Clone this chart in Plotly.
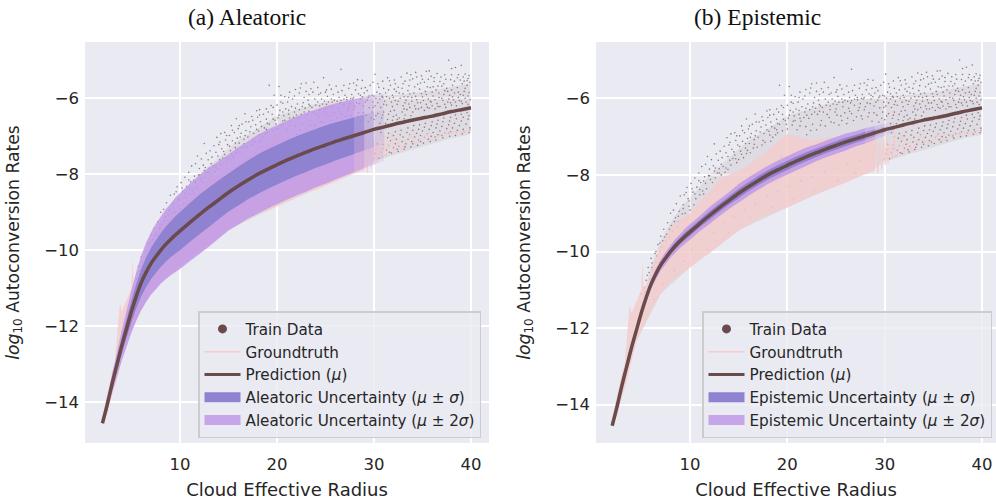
import plotly.graph_objects as go

# ---------- values ----------
radius = [2, 2.5, 3, 3.5, 4, 4.5, 5, 5.5, 6, 6.5, 7, 7.5, 8, 8.5, 9, 9.5, 10, 11, 12, 13, 14, 15, 16, 17, 18, 19, 20,
          21, 22, 23, 24, 25, 26, 27, 28, 29, 30, 31, 32, 33, 34, 35, 36, 37, 38, 39, 40]
prediction = [-14.55, -14.05, -13.5, -13.0, -12.5, -12.05, -11.6, -11.2, -10.85, -10.58, -10.35, -10.17, -10.0, -9.85,
              -9.72, -9.6, -9.49, -9.27, -9.06, -8.86, -8.67, -8.48, -8.31, -8.15, -8.0, -7.87, -7.75, -7.63, -7.52, -7.42,
              -7.32, -7.23, -7.14, -7.06, -6.98, -6.9, -6.82, -6.76, -6.69, -6.63, -6.57, -6.52, -6.47, -6.41, -6.35,
              -6.3, -6.25]
# standard deviations for radius[0:38] (x = 2 ... 31)
aleatoric_std = [0.02, 0.07, 0.12, 0.16, 0.2, 0.24, 0.28, 0.32, 0.36, 0.39, 0.41, 0.43, 0.44, 0.46, 0.47, 0.49, 0.5,
                 0.51, 0.52, 0.52, 0.51, 0.5, 0.51, 0.51, 0.52, 0.52, 0.52, 0.52, 0.52, 0.52, 0.51, 0.51, 0.5, 0.49,
                 0.48, 0.47, 0.46, 0.45]
epistemic_std = [0.01, 0.02, 0.03, 0.03, 0.04, 0.04, 0.05, 0.05, 0.06, 0.07, 0.07, 0.08, 0.08, 0.09, 0.09, 0.1, 0.1,
                 0.1, 0.11, 0.11, 0.11, 0.12, 0.12, 0.12, 0.12, 0.12, 0.12, 0.12, 0.12, 0.11, 0.11, 0.11, 0.11, 0.1,
                 0.1, 0.09, 0.08, 0.07]

truth_upper_x = [2.0, 2.3, 3.0, 3.3, 3.6, 3.8, 4.0, 4.5, 5.0, 5.1, 5.2, 5.6, 6, 6.5, 7, 8, 9, 10, 11, 12, 13, 14, 15, 16,
                 17, 17.5, 18, 19, 20, 21, 22, 22.5, 24, 25.5, 27, 28, 28.6, 29.0]
truth_upper_y = [-14.55, -14.0, -13.2, -12.9, -12.0, -11.4, -11.6, -11.3, -11.0, -10.2, -10.9, -10.9, -10.5, -10.15,
                 -9.85, -9.4, -9.15, -9.0, -8.7, -8.45, -8.1, -8.0, -7.9, -7.75, -7.55, -7.47, -7.35, -7.15, -6.93,
                 -7.0, -7.08, -7.1, -7.05, -7.0, -6.95, -6.85, -6.85, -7.25]
truth_lower_x = [29.0, 28, 27, 26, 25, 24, 23, 22, 21, 20, 19, 18, 17, 16, 15, 14, 13, 12, 11, 10, 9, 8, 7, 6,
                 5.5, 5, 4.5, 4, 3.5, 3, 2.5, 2]
truth_lower_y = [-7.9, -7.98, -8.08, -8.2, -8.3, -8.4, -8.5, -8.6, -8.72, -8.85, -8.95, -9.05, -9.15, -9.3,
                 -9.45, -9.65, -9.85, -10.05, -10.2, -10.42, -10.6, -10.8, -11.1, -11.55, -11.8, -12.1, -12.35, -12.85,
                 -13.4, -13.8, -14.3, -14.55]
truth_line_x = [28.7, 28.9, 29.1, 29.3, 29.5, 29.7, 29.9, 30.05, 30.2, 30.35, 30.5, 30.8, 31, 31.2, 31.8, 32, 32.5, 32.8,
                33.3, 33.8, 34.3, 35, 35.5, 36, 37, 38, 39, 40]
truth_line_y = [-6.9, -7.85, -7.0, -7.95, -7.15, -7.85, -7.1, -7.75, -7.0, -7.7, -7.2, -7.6, -6.9, -7.55, -6.9, -7.45,
                -7.1, -7.4, -7.1, -6.95, -7.2, -7.05, -6.95, -7.1, -6.95, -6.9, -6.9, -6.85]

dense_upper_x = [5, 6, 7, 8, 9, 10, 12, 14, 16, 18, 20, 22, 24, 26, 28, 30, 33, 36, 40]
dense_upper_y = [-11.3, -10.4, -9.7, -9.25, -8.85, -8.6, -8.0, -7.55, -7.1, -6.8, -6.45, -6.3, -6.15, -6.05, -6.0,
                 -5.95, -5.9, -5.8, -5.6]
dense_lower_x = [40, 38, 36, 34, 32, 30, 28, 24, 20, 15, 10, 7, 5]
dense_lower_y = [-6.95, -7.05, -7.2, -7.35, -7.5, -7.65, -7.98, -8.4, -8.85, -9.45, -10.42, -11.1, -12.1]

train_points = [
 (19.2,-5.66),(20.2,-5.69),(19.7,-5.92),(20.4,-5.92),(20.8,-5.96),(21.3,-5.84),(21.9,-5.77),(22.5,-5.62),(23.0,-5.60),
 (23.8,-5.58),(22.4,-5.73),(23.5,-5.75),(24.2,-5.72),(19.4,-6.19),(18.2,-6.30),(17.9,-6.33),(16.7,-6.41),(15.8,-6.54),
 (15.3,-6.72),(14.6,-6.90),(14.2,-6.93),(13.8,-7.03),(12.5,-7.19),(11.8,-7.52),(26.6,-5.24),(24.8,-5.46),(37.7,-5.00),
 (39.0,-5.13),(38.0,-5.22),(38.4,-5.19),(35.4,-5.29),(35.7,-5.28),(34.3,-5.32),(33.4,-5.34),(33.8,-5.38),(30.1,-5.37),
 (31.4,-5.46),(28.3,-5.51),(28.8,-5.53),(27.9,-5.60),(30.9,-5.55),(32.1,-5.52),(32.8,-5.44),(33.2,-5.55),(34.0,-5.49),
 (34.9,-5.41),(35.9,-5.42),(36.5,-5.35),(36.9,-5.44),(37.3,-5.38),(38.7,-5.38),(39.4,-5.36),(39.8,-5.40),(37.9,-5.51),
 (36.2,-5.56),(35.2,-5.58),(34.5,-5.63),(33.6,-5.67),(32.5,-5.71),(31.7,-5.66),(30.5,-5.71),(29.6,-5.66),(29.1,-5.72),
 (28.1,-5.78),(27.4,-5.74),(26.7,-5.80),(26.1,-5.68),(25.4,-5.65),(25.1,-5.78),(24.5,-5.86),(23.3,-5.90),(22.8,-5.98),
 (21.6,-6.02),(21.1,-6.10),(20.6,-6.13),(20.0,-6.18),(19.1,-6.36),(18.6,-6.42),(18.0,-6.50),(17.4,-6.48),(17.1,-6.62),
 (16.4,-6.68),(16.0,-6.80),(15.6,-6.90),(15.1,-6.98),(14.7,-7.10),(14.0,-7.22),(13.5,-7.25),(13.1,-7.38),(12.7,-7.45),
 (12.2,-7.60),(11.6,-7.72),(11.2,-7.78),(10.9,-7.95),(10.5,-8.08),(10.1,-8.22),(9.7,-8.33),(9.4,-8.52),(9.0,-8.55),
 (8.6,-8.75),(8.3,-8.92),(8.0,-9.0),(7.7,-9.25),(7.3,-9.42),(7.0,-9.6),(6.7,-9.82),(6.4,-10.05),(6.1,-10.3),(5.8,-10.55),
 (5.5,-10.75),(5.3,-10.95),(5.7,-10.42),(6.0,-10.18),(6.6,-10.12),(7.2,-9.72),(7.6,-9.55),(8.1,-9.32),(8.5,-9.12),
 (8.9,-8.95),(9.3,-8.78),(9.8,-8.62),(10.3,-8.45),(10.7,-8.32),(11.1,-8.2),(11.5,-8.05),(12.0,-7.85),(12.4,-7.76),
 (12.9,-7.62),(13.3,-7.55),(13.7,-7.42),(14.3,-7.33),(14.9,-7.22),(15.4,-7.12),(15.9,-7.05),(16.3,-6.92),(16.8,-6.85),
 (17.3,-6.75),(17.8,-6.70),(18.3,-6.62),(18.9,-6.55),(19.5,-6.42),(20.3,-6.32),(20.9,-6.28),(21.5,-6.22),(22.1,-6.15),
 (22.7,-6.12),(23.2,-6.05),(23.9,-6.02),(24.6,-6.02),(25.2,-5.95),(25.8,-5.90),(26.4,-5.98),(27.0,-5.92),(27.7,-5.90),
 (28.4,-5.88),(29.0,-5.86),(29.8,-5.92),(30.3,-5.84),(30.8,-5.95),(31.2,-5.86),(31.9,-5.92),(32.3,-5.82),(33.0,-5.88),
 (33.5,-5.80),(34.1,-5.86),(34.7,-5.76),(35.3,-5.82),(35.8,-5.72),(36.4,-5.78),(37.0,-5.68),(37.5,-5.74),(38.1,-5.66),
 (38.6,-5.72),(39.1,-5.62),(39.6,-5.66),(39.9,-5.58),
 (10.6,-8.62),(11.3,-8.42),(12.1,-8.12),(12.8,-7.95),(13.4,-7.78),(14.1,-7.62),(14.6,-7.48),(15.2,-7.38),(15.7,-7.3),
 (16.1,-7.18),(16.6,-7.08),(17.0,-7.02),(17.6,-6.92),(18.1,-6.86),(18.7,-6.78),(19.2,-6.68),(19.8,-6.58),(20.1,-6.52),
 (20.7,-6.46),(21.2,-6.42),(21.8,-6.36),(22.3,-6.3),(22.9,-6.26),(23.4,-6.2),(24.0,-6.18),(24.7,-6.15),(25.3,-6.1),
 (25.9,-6.05),(26.5,-6.12),(27.2,-6.04),(27.8,-6.02),(20.5,-6.7),(21.4,-6.6),(22.2,-6.52),(23.1,-6.42),(23.7,-6.36),
 (24.4,-6.3),(25.0,-6.28),(25.7,-6.22),(26.3,-6.26),(26.9,-6.18),(27.5,-6.14),(28.2,-6.12),(21.0,-6.82),(21.9,-6.74),
 (22.6,-6.68),(23.5,-6.58),(24.3,-6.5),(25.1,-6.44),(25.9,-6.38),(26.6,-6.4),(27.3,-6.32),(27.9,-6.3),(22.0,-6.95),
 (23.0,-6.82),(23.9,-6.72),(24.8,-6.64),(25.6,-6.58),(26.2,-6.52),(27.1,-6.48),(27.6,-6.46),(19.5,-6.85),(18.5,-7.02),
 (17.7,-7.15),(16.9,-7.28),(16.2,-7.42),(15.5,-7.55),(14.8,-7.68),(13.9,-7.86),(13.2,-8.0),(12.3,-8.2),(11.4,-8.5),
 (28.6,-6.02),(29.3,-6.05),(29.9,-6.1),(30.6,-6.02),(31.1,-6.08),(31.6,-6.0),(32.2,-6.06),(32.7,-6.0),(33.3,-6.05),
 (33.9,-5.98),(34.4,-6.04),(35.0,-5.96),(35.6,-6.02),(36.1,-5.94),(36.7,-5.98),(37.2,-5.9),(37.8,-5.92),(38.3,-5.86),
 (38.9,-5.9),(39.3,-5.82),(39.8,-5.85),(28.9,-6.2),(29.5,-6.25),(30.1,-6.2),(30.7,-6.24),(31.3,-6.18),(31.9,-6.22),
 (32.4,-6.16),(33.0,-6.2),(33.6,-6.15),(34.2,-6.2),(34.8,-6.12),(35.4,-6.16),(35.9,-6.1),(36.5,-6.14),(37.1,-6.06),
 (37.6,-6.1),(38.2,-6.04),(38.8,-6.06),(39.4,-6.0),(39.9,-6.04),(28.4,-6.38),(29.2,-6.44),(29.8,-6.36),(30.4,-6.4),
 (31.0,-6.36),(31.5,-6.42),(32.1,-6.32),(32.9,-6.36),(33.4,-6.3),(34.0,-6.36),(34.6,-6.28),(35.2,-6.32),(35.7,-6.26),
 (36.3,-6.28),(36.8,-6.22),(37.4,-6.24),(38.0,-6.18),(38.5,-6.2),(39.1,-6.14),(39.7,-6.16),(28.7,-6.6),(29.4,-6.62),
 (30.0,-6.56),(30.8,-6.52),(31.4,-6.56),(32.0,-6.48),(32.6,-6.52),(33.2,-6.44),(33.8,-6.46),
 (31.0,-7.0),(31.5,-6.92),(32.2,-6.88),(32.8,-6.84),(33.5,-6.78),(34.1,-6.72),(34.7,-6.7),(35.3,-6.66),(36.0,-6.62),
 (36.6,-6.58),(37.2,-6.52),(37.9,-6.5),(38.4,-6.44),(39.0,-6.42),(39.6,-6.38),(30.3,-7.2),(30.9,-7.22),(31.7,-7.12),
 (32.3,-7.08),(33.0,-7.02),(33.7,-6.96),(34.4,-6.92),(35.0,-6.86),(35.7,-6.82),(36.4,-6.78),(37.0,-6.74),(37.7,-6.7),
 (38.3,-6.66),(39.0,-6.6),(39.7,-6.55),(30.1,-7.45),(30.7,-7.42),(31.3,-7.36),(32.0,-7.3),(32.6,-7.26),(33.3,-7.2),
 (33.9,-7.14),(34.6,-7.1),(35.2,-7.02),(35.9,-7.0),(36.6,-6.96),(37.3,-6.92),(37.9,-6.88),(38.6,-6.84),(39.2,-6.82),
 (39.9,-6.78),(30.5,-7.58),(31.2,-7.5),(31.8,-7.44),(32.5,-7.4),(33.1,-7.34),(33.8,-7.28),(34.5,-7.24),(35.1,-7.18),
 (35.8,-7.14),(36.4,-7.1),(37.1,-7.04),(37.8,-7.0),(38.4,-6.98),(39.1,-6.94),(39.8,-6.9),
 (10.2,-9.95),(11.2,-9.7),(12.4,-9.5),(13.5,-9.25),(14.5,-9.1),(15.6,-8.9),(16.7,-8.75),(17.9,-8.55),(19.0,-8.42),
 (20.2,-8.3),(21.4,-8.15),(22.6,-8.05),(23.8,-7.92),(25.0,-7.82),(26.2,-7.72),(27.4,-7.62),(8.4,-10.5),(7.2,-10.85),
 (6.3,-11.25),(9.4,-10.25),(11.8,-9.95),(14.0,-9.5),(16.2,-9.1),(18.4,-8.85),(20.6,-8.65),(22.8,-8.4),(25.2,-8.15),
 (27.0,-7.95),(12.8,-8.72),(15.0,-8.25),(17.2,-7.95),(19.4,-7.55),
 (9.2,-9.02),(9.9,-8.82),(10.4,-8.78),(11.0,-8.52),(11.7,-8.36),(12.6,-8.08),(13.0,-7.84),(13.6,-7.93),(14.4,-7.57),
 (15.0,-7.6),(15.8,-7.44),(16.5,-7.3),(17.5,-7.1),(18.3,-7.12),(19.0,-6.9),(20.0,-6.8),(20.8,-6.58),(21.7,-6.5),
 (22.5,-6.42),(23.3,-6.34),(24.1,-6.42),(24.9,-6.36),(25.5,-6.46),(26.4,-6.34),(27.4,-6.24),(28.0,-6.22),(18.8,-6.95),
 (19.9,-6.68),(21.3,-6.72),(22.4,-6.84),(23.4,-6.7),(24.5,-6.62),(25.3,-6.7),(26.1,-6.66),(26.8,-6.58),(27.7,-6.54),
 (28.3,-6.48),(28.9,-6.38),(29.7,-6.52),(30.2,-6.46),(30.9,-6.44),(31.7,-6.34),(32.3,-6.44),(33.1,-6.28),(33.7,-6.24),
 (34.3,-6.28),(34.9,-6.24),(35.5,-6.24),(36.0,-6.2),(36.6,-6.22),(37.3,-6.16),(37.9,-6.12),(38.4,-6.1),(39.0,-6.08),
 (39.5,-6.1),(28.5,-6.14),(29.1,-6.1),(29.9,-6.24),(30.4,-6.12),(31.0,-6.16),(31.8,-6.1),(32.5,-6.08),(33.2,-6.12),
 (33.9,-6.08),(34.5,-6.12),(35.1,-6.06),(35.8,-6.08),(36.3,-6.04),(37.0,-6.0),(37.7,-6.02),(38.1,-5.96),(38.7,-5.98),
 (39.2,-5.92),(39.7,-5.94),(28.8,-5.96),(29.5,-5.94),(30.2,-6.0),(30.9,-5.98),(31.5,-5.78),(32.1,-5.76),(32.9,-5.74),
 (33.5,-5.96),(34.2,-5.7),(34.8,-5.6),(35.5,-5.7),(36.0,-5.84),(36.6,-5.68),(37.2,-5.62),(37.6,-5.82),(38.3,-5.55),
 (38.9,-5.52),(39.3,-5.55),(39.7,-5.48),(30.6,-6.66),(31.2,-6.66),(31.9,-6.58),(32.4,-6.56),(33.1,-6.54),(30.7,-6.9),
 (31.4,-7.04),(32.0,-6.98),(32.7,-6.96),(33.4,-6.9),(34.0,-6.84),(34.6,-6.82),(35.2,-6.76),(35.9,-6.72),(36.5,-6.68),
 (37.1,-6.62),(37.8,-6.6),(38.5,-6.54),(39.2,-6.5),(39.8,-6.46),(30.2,-7.34),(30.9,-7.32),(31.5,-7.24),(32.2,-7.2),
 (32.9,-7.14),(33.5,-7.08),(34.2,-7.02),(34.8,-6.98),(35.5,-6.94),(36.1,-6.9),(36.8,-6.86),(37.5,-6.8),(38.1,-6.78),
 (38.8,-6.72),(39.5,-6.68),(30.0,-7.58),(30.8,-7.54),(31.6,-7.42),(32.4,-7.34),(33.2,-7.28),(34.0,-7.2),(34.8,-7.14),
 (35.6,-7.08),(36.3,-7.02),(37.0,-6.98),(37.7,-6.92),(38.5,-6.9),(39.3,-6.88),(39.9,-6.84),
 (6.9,-10.0),(7.5,-9.72),(8.2,-9.48),(8.8,-9.22),(9.5,-9.0),(10.0,-8.92),(7.1,-9.88),(7.9,-9.62),(8.7,-9.36),
 (5.0,-11.1),(5.4,-11.05),(5.9,-10.72),(6.2,-10.5),(6.5,-10.28),
 # third pass, upper cloud
 (9.6,-8.46),(10.2,-8.36),(10.9,-8.15),(11.4,-8.16),(11.9,-8.02),(12.5,-7.9),(13.2,-7.72),(13.9,-7.52),(14.5,-7.4),
 (15.1,-7.26),(15.7,-7.18),(16.2,-7.02),(16.7,-6.98),(17.2,-6.88),(17.9,-6.82),(18.4,-6.74),(19.0,-6.66),(19.6,-6.55),
 (20.2,-6.44),(20.6,-6.36),(21.2,-6.32),(21.9,-6.26),(22.6,-6.22),(23.3,-6.16),(24.2,-6.1),(24.9,-6.08),(25.6,-6.02),
 (26.2,-6.08),(26.9,-6.02),(27.6,-6.0),(14.1,-7.15),(14.8,-6.98),(15.4,-6.84),(16.1,-6.72),(16.8,-6.62),(17.5,-6.58),
 (18.2,-6.44),(18.9,-6.28),(19.6,-6.24),(20.4,-6.1),(21.2,-5.98),(21.8,-5.94),(22.3,-5.86),(23.0,-5.82),(23.7,-5.84),
 (24.3,-5.9),(25.0,-5.84),(25.6,-5.76),(26.3,-5.84),(26.9,-5.66),(27.5,-5.62),(28.2,-5.66),(28.7,-5.74),(29.3,-5.8),
 (29.9,-5.58),(30.4,-5.62),(31.0,-5.74),(31.6,-5.54),(32.2,-5.62),(33.0,-5.62),(33.7,-5.52),(34.4,-5.44),(35.0,-5.5),
 (35.6,-5.5),(36.2,-5.46),(36.8,-5.56),(37.4,-5.5),(38.0,-5.38),(38.6,-5.46),(39.2,-5.44),(39.6,-5.54),(39.4,-5.74),
 (38.7,-5.84),(38.0,-5.78),(37.3,-5.8),(36.7,-5.86),(36.1,-5.7),(35.4,-5.9),(34.9,-5.88),(34.3,-5.95),(33.7,-5.88),
 (33.1,-5.96),(32.6,-5.86),(32.0,-5.98),(31.3,-5.96),(30.6,-5.88),(30.0,-5.94),(29.4,-5.98),(28.6,-5.92),(27.9,-5.98),
 (27.2,-5.98),(26.6,-6.06),(25.7,-6.1),(25.1,-6.16),(24.4,-6.2),(23.6,-6.24),(22.8,-6.36),(22.0,-6.44),(21.3,-6.52),
 (20.6,-6.6),(18.9,-6.82),(18.2,-6.96),(17.4,-7.22),(16.6,-7.2),(15.9,-7.36),(15.3,-7.46),(14.7,-7.58),(14.2,-7.74),
 (13.7,-7.82),(13.0,-7.95),(12.6,-7.82),(12.0,-8.02),(11.6,-8.22),(11.0,-8.38),(10.5,-8.5),(9.9,-8.68),(9.3,-8.88),
 (8.8,-9.08),(8.4,-9.22),(7.9,-9.42),(7.4,-9.62),(6.9,-9.78),(6.5,-10.0),(6.1,-10.42),(5.6,-10.62),
]
train_x = [p[0] for p in train_points]
train_y = [p[1] for p in train_points]

BROWN = "#6A4A4A"
PINK = "rgba(244,204,204,0.82)"
DARK = "#8F82D1"
LIGHT = "rgba(192,153,230,0.85)"
fade_dark = [0.6, 0.25, 0.08]
fade_light = [0.75, 0.45, 0.2]

panels = [
    dict(ax="x", ay="y", name="Aleatoric", std=aleatoric_std, legend="legend"),
    dict(ax="x2", ay="y2", name="Epistemic", std=epistemic_std, legend="legend2"),
]

fig = go.Figure()


def band(px, mu, sd, k, color, ax, ay, alpha=None):
    upper = [m + k * s for m, s in zip(mu, sd)]
    lower = [m - k * s for m, s in zip(mu, sd)]
    fig.add_trace(go.Scatter(x=px + px[::-1], y=upper + lower[::-1], fill="toself", fillcolor=color, mode="none",
                             showlegend=False, hoverinfo="skip", opacity=alpha, xaxis=ax, yaxis=ay))


for pn in panels:
    ax, ay, leg = pn["ax"], pn["ay"], pn["legend"]
    fig.add_trace(go.Scatter(x=dense_upper_x + dense_lower_x, y=dense_upper_y + dense_lower_y, fill="toself",
                             fillcolor="rgba(125,100,100,0.11)", mode="none", showlegend=False, hoverinfo="skip",
                             xaxis=ax, yaxis=ay))
    fig.add_trace(go.Scatter(x=train_x, y=train_y, mode="markers", marker=dict(size=1.6, color="#8F7C7E"),
                             showlegend=False, hoverinfo="skip", xaxis=ax, yaxis=ay))
    fig.add_trace(go.Scatter(x=truth_upper_x + truth_lower_x, y=truth_upper_y + truth_lower_y, fill="toself",
                             fillcolor=PINK, mode="none", showlegend=False, hoverinfo="skip", xaxis=ax, yaxis=ay))
    fig.add_trace(go.Scatter(x=truth_line_x, y=truth_line_y, mode="lines", line=dict(color="rgba(244,204,204,0.9)", width=1.2),
                             showlegend=False, hoverinfo="skip", xaxis=ax, yaxis=ay))
    n = 35  # solid part ends at x = 28
    band(radius[:n], prediction[:n], pn["std"][:n], 2, LIGHT, ax, ay)
    band(radius[:n], prediction[:n], pn["std"][:n], 1, DARK, ax, ay)
    for i in range(3):
        s, e = n - 1 + i, n + 1 + i
        band(radius[s:e], prediction[s:e], pn["std"][s:e], 2, LIGHT, ax, ay, fade_light[i])
        band(radius[s:e], prediction[s:e], pn["std"][s:e], 1, DARK, ax, ay, fade_dark[i])
    fig.add_trace(go.Scatter(x=radius, y=prediction, mode="lines", line=dict(color=BROWN, width=3.5, shape="spline", smoothing=0.7),
                             showlegend=False, hoverinfo="skip", xaxis=ax, yaxis=ay))
    entries = [
        dict(name="Train Data", mode="markers", marker=dict(size=9, color=BROWN)),
        dict(name="Groundtruth", mode="lines", line=dict(color="#F4CCCC", width=1.5)),
        dict(name="Prediction (<i>μ</i>)", mode="lines", line=dict(color=BROWN, width=3)),
        dict(name=f"{pn['name']} Uncertainty (<i>μ</i> ± <i>σ</i>)", mode="lines", line=dict(color=DARK, width=12)),
        dict(name=f"{pn['name']} Uncertainty (<i>μ</i> ± 2<i>σ</i>)", mode="lines", line=dict(color="#C6A6E8", width=12)),
    ]
    for i, e in enumerate(entries):
        fig.add_trace(go.Scatter(x=[None], y=[None], legend=leg, legendgroup=f"{leg}{i}", xaxis=ax, yaxis=ay, **e))

TXT = "#262626"
axis_common = dict(showgrid=True, gridcolor="white", gridwidth=1.5, zeroline=False, showline=False, ticks="",
                   tickfont=dict(family="DejaVu Sans", size=16.5, color=TXT))
xtitle = dict(text="Cloud Effective Radius", font=dict(family="DejaVu Sans", size=18, color=TXT), standoff=10)
ytitle = dict(text="<i>log</i><sub>10</sub> Autoconversion Rates", font=dict(family="DejaVu Sans", size=17.2, color=TXT),
              standoff=20)
legend_common = dict(yanchor="top", xanchor="left", y=(504 - 311) / 504, bgcolor="rgba(234,234,242,0.8)",
                     bordercolor="#CCCCCC", borderwidth=1.5, font=dict(family="DejaVu Sans", size=15.2, color=TXT),
                     itemwidth=36, tracegroupgap=4, itemsizing="trace", traceorder="normal")

fig.update_layout(
    width=996, height=504, margin=dict(l=0, r=0, t=0, b=0), autosize=False,
    paper_bgcolor="white", plot_bgcolor="#EAEAF2",
    xaxis=dict(domain=[85 / 996, 489 / 996], range=[0.2, 41.86], tickvals=[10, 20, 30, 40], title=xtitle, ticklabelstandoff=9, **axis_common),
    yaxis=dict(domain=[61 / 504, 462 / 504], range=[-15.07, -4.52], tickvals=[-14, -12, -10, -8, -6], title=ytitle, ticklabelstandoff=5, **axis_common),
    xaxis2=dict(domain=[596 / 996, 1], range=[0.34, 41.44], tickvals=[10, 20, 30, 40], title=xtitle, anchor="y2", ticklabelstandoff=9, **axis_common),
    yaxis2=dict(domain=[61 / 504, 462 / 504], range=[-15.0, -4.53], tickvals=[-14, -12, -10, -8, -6], title=ytitle, anchor="x2", ticklabelstandoff=5, **axis_common),
    legend=dict(x=198 / 996, **legend_common),
    legend2=dict(x=702 / 996, **legend_common),
    annotations=[
        dict(text="(a) Aleatoric", xref="paper", yref="paper", x=247 / 996, y=(504 - 17) / 504, showarrow=False,
             xanchor="center", yanchor="middle", font=dict(family="Liberation Serif", size=23.5, color="#111111")),
        dict(text="(b) Epistemic", xref="paper", yref="paper", x=757 / 996, y=(504 - 17) / 504, showarrow=False,
             xanchor="center", yanchor="middle", font=dict(family="Liberation Serif", size=23.5, color="#111111")),
    ],
)
fig.write_html("out.html", config=dict(displayModeBar=False),
               post_script="document.body.style.margin='0';document.documentElement.style.overflow='hidden';")
